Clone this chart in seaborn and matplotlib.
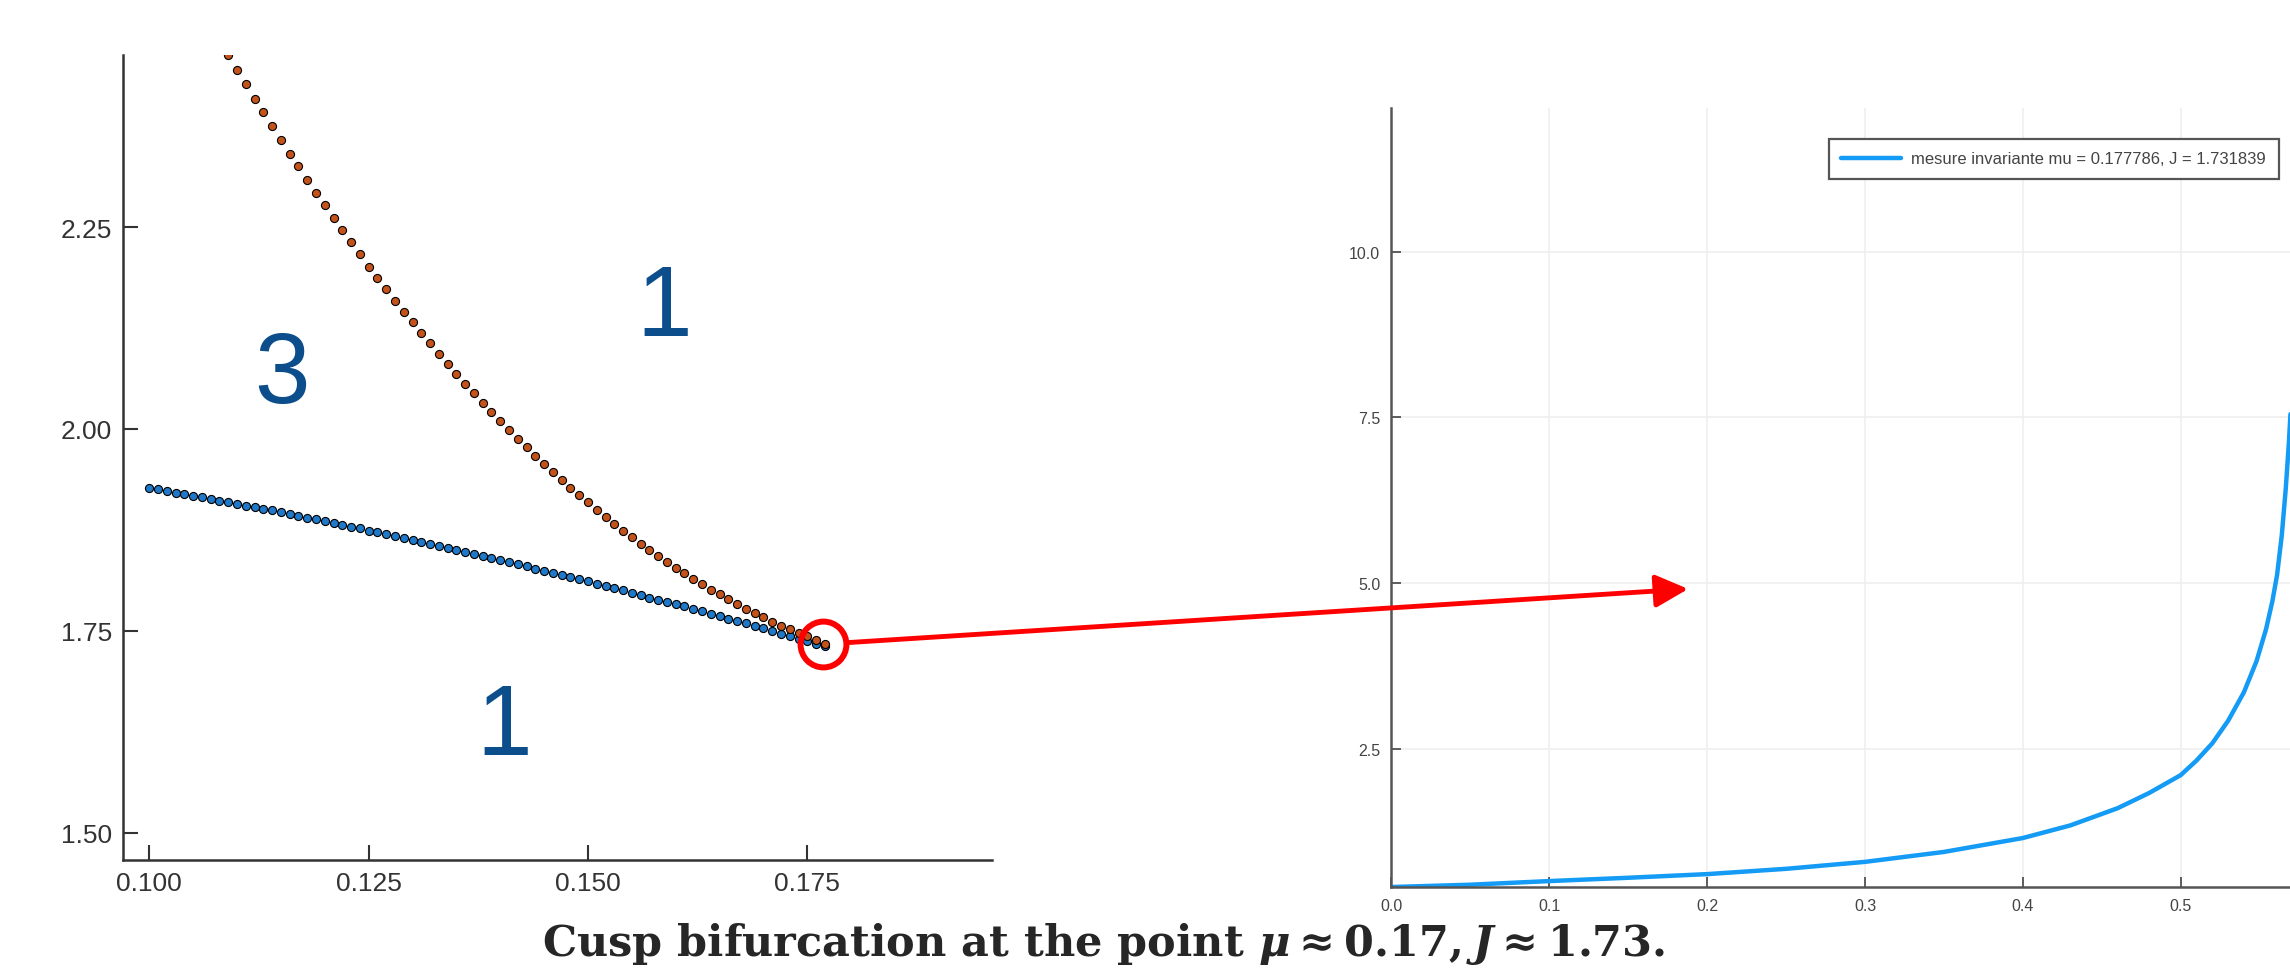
import numpy as np
import matplotlib
matplotlib.use("Agg")
import matplotlib.pyplot as plt
import seaborn as sns
from matplotlib.patches import ConnectionPatch

# =====================================
# Data
# =====================================

# left panel: the two fold branches, one dot every 0.001 in mu
mu_lower = np.round(np.arange(0.100, 0.1775, 0.001), 3)
J_lower = [1.927, 1.925, 1.923, 1.921, 1.919, 1.917, 1.915, 1.913, 1.911, 1.909,
           1.907, 1.905, 1.903, 1.901, 1.899, 1.897, 1.894, 1.892, 1.890, 1.888,
           1.886, 1.883, 1.881, 1.879, 1.877, 1.874, 1.872, 1.870, 1.867, 1.865,
           1.862, 1.860, 1.858, 1.855, 1.853, 1.850, 1.848, 1.845, 1.843, 1.840,
           1.838, 1.835, 1.832, 1.830, 1.827, 1.824, 1.822, 1.819, 1.816, 1.814,
           1.811, 1.808, 1.805, 1.803, 1.800, 1.797, 1.794, 1.791, 1.788, 1.786,
           1.783, 1.780, 1.777, 1.774, 1.771, 1.768, 1.765, 1.762, 1.759, 1.756,
           1.753, 1.750, 1.746, 1.743, 1.740, 1.737, 1.734, 1.731]

mu_upper = np.round(np.arange(0.109, 0.1775, 0.001), 3)
J_upper = [2.463, 2.445, 2.427, 2.409, 2.392, 2.375, 2.358, 2.341, 2.325, 2.308,
           2.292, 2.277, 2.261, 2.246, 2.231, 2.216, 2.201, 2.187, 2.173, 2.159,
           2.145, 2.132, 2.119, 2.106, 2.093, 2.080, 2.068, 2.056, 2.044, 2.032,
           2.021, 2.010, 1.999, 1.988, 1.977, 1.967, 1.957, 1.947, 1.937, 1.927,
           1.918, 1.909, 1.900, 1.891, 1.882, 1.874, 1.866, 1.858, 1.850, 1.843,
           1.835, 1.828, 1.821, 1.814, 1.808, 1.801, 1.795, 1.789, 1.783, 1.777,
           1.772, 1.767, 1.761, 1.756, 1.752, 1.747, 1.743, 1.738, 1.734]

# number of fixed points in each region
region_labels = ["3", "1", "1"]
region_mu = [0.1151, 0.1587, 0.1404]
region_J = [2.033, 2.116, 1.597]

# circled cusp point and where the arrow lands in the right panel
cusp_mu, cusp_J = 0.1768, 1.7333
arrow_x, arrow_y = 0.188, 4.91

# right panel: invariant measure density
x_measure = [0.0, 0.05, 0.10, 0.15, 0.20, 0.25, 0.30, 0.35, 0.40, 0.43,
             0.46, 0.48, 0.50, 0.51, 0.52, 0.53, 0.54, 0.548, 0.554, 0.558,
             0.561, 0.564, 0.5665, 0.5685, 0.5695]
y_measure = [0.41, 0.445, 0.50, 0.55, 0.605, 0.685, 0.79, 0.94, 1.15, 1.34,
             1.60, 1.83, 2.10, 2.32, 2.58, 2.92, 3.35, 3.82, 4.30, 4.72,
             5.12, 5.72, 6.42, 7.12, 7.55]
measure_label = "mesure invariante mu = 0.177786, J = 1.731839"

left_xticks = [0.100, 0.125, 0.150, 0.175]
left_yticks = [1.50, 1.75, 2.00, 2.25]
right_xticks = [0.0, 0.1, 0.2, 0.3, 0.4, 0.5]
right_yticks = [2.5, 5.0, 7.5, 10.0]

caption = r"Cusp bifurcation at the point $\mu \approx 0.17, J \approx 1.73$."

# =====================================
# Style
# =====================================

sns.set_style("white")
plt.rcParams["font.family"] = ["Liberation Sans", "DejaVu Sans"]
plt.rcParams["mathtext.fontset"] = "custom"
plt.rcParams["mathtext.rm"] = "DejaVu Serif:bold"
plt.rcParams["mathtext.it"] = "DejaVu Serif:italic:bold"
plt.rcParams["mathtext.bf"] = "DejaVu Serif:bold"

fig = plt.figure(figsize=(22.9, 9.7), dpi=100)

# =====================================
# Left panel: bifurcation diagram
# =====================================

ax1 = fig.add_axes([0.0537, 0.1124, 0.3793, 0.8302])

sns.scatterplot(x=mu_lower, y=J_lower, s=34, color="#1f78c8",
                edgecolor="black", linewidth=0.8, ax=ax1, zorder=3)
sns.scatterplot(x=mu_upper, y=J_upper, s=34, color="#c4531b",
                edgecolor="black", linewidth=0.8, ax=ax1, zorder=4)

for lab, m, j in zip(region_labels, region_mu, region_J):
    ax1.text(m, j, lab, fontsize=72, color="#0c4d8c",
             ha="center", va="baseline")

ax1.plot([cusp_mu], [cusp_J], "o", ms=33, mfc="none", mec="red",
         mew=4.3, zorder=6)

ax1.set_xlim(0.097, 0.196)
ax1.set_ylim(1.466, 2.4635)
ax1.set_xticks(left_xticks)
ax1.set_xticklabels([f"{v:.3f}" for v in left_xticks])
ax1.set_yticks(left_yticks)
ax1.set_yticklabels([f"{v:.2f}" for v in left_yticks])
ax1.tick_params(direction="in", length=11, width=1.5, labelsize=19,
                colors="#333333", pad=8, bottom=True, left=True)
for side in ["top", "right"]:
    ax1.spines[side].set_visible(False)
for side in ["left", "bottom"]:
    ax1.spines[side].set_color("#333333")
    ax1.spines[side].set_linewidth(1.8)
ax1.set_xlabel("")
ax1.set_ylabel("")

# =====================================
# Right panel: invariant measure
# =====================================

ax2 = fig.add_axes([0.6076, 0.0845, 0.3924, 0.8031])

sns.lineplot(x=x_measure, y=y_measure, color="#139bf5", lw=3.2,
             label=measure_label, ax=ax2, sort=False)

ax2.set_xlim(0, 0.5692)
ax2.set_ylim(0.41, 12.17)
ax2.set_xticks(right_xticks)
ax2.set_xticklabels([f"{v:.1f}" for v in right_xticks])
ax2.set_yticks(right_yticks)
ax2.set_yticklabels([f"{v:.1f}" for v in right_yticks])
ax2.grid(True, color="#efefef", lw=1.2)
ax2.tick_params(direction="in", length=7, width=1.2, labelsize=11.5,
                colors="#444444", pad=8, bottom=True, left=True)
for side in ["top", "right"]:
    ax2.spines[side].set_visible(False)
for side in ["left", "bottom"]:
    ax2.spines[side].set_color("#555555")
    ax2.spines[side].set_linewidth(1.8)

leg = ax2.legend(loc="upper right", bbox_to_anchor=(2278.5 / 2290, 1 - 140 / 970),
                 bbox_transform=fig.transFigure, borderaxespad=0,
                 fontsize=12, handlelength=3.6, handletextpad=0.6,
                 borderpad=0.75, fancybox=False, framealpha=1)
leg.get_frame().set_edgecolor("#555555")
leg.get_frame().set_linewidth(1.6)
for t in leg.get_texts():
    t.set_color("#444444")

# =====================================
# Arrow from the cusp to the measure plot
# =====================================

con = ConnectionPatch(xyA=(cusp_mu, cusp_J), coordsA=ax1.transData,
                      xyB=(arrow_x, arrow_y), coordsB=ax2.transData,
                      arrowstyle="-|>,head_length=1.0,head_width=0.5",
                      mutation_scale=20, color="red", lw=3.5,
                      shrinkA=17, shrinkB=0, zorder=10)
fig.add_artist(con)

# =====================================
# Caption
# =====================================

fig.text(1104 / 2290, 1 - 956 / 970, caption, ha="center", va="baseline",
         fontsize=31, fontweight="bold", family="DejaVu Serif")

fig.savefig("out.png", dpi=100)
